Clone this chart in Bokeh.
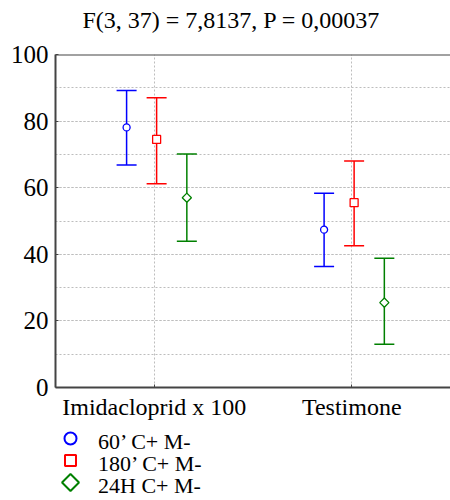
from bokeh.plotting import figure
from bokeh.layouts import column
from bokeh.models import (ColumnDataSource, FactorRange, Range1d, Whisker, TeeHead,
                          SingleIntervalTicker, Span)
from bokeh.transform import dodge
from bokeh.core.properties import value
from bokeh.embed import file_html
from bokeh.resources import INLINE

# ---- data ----
categories = ["Imidacloprid x 100", "Testimone"]
series_names = ["60\u2019 C+ M-", "180\u2019 C+ M-", "24H C+ M-"]
means_60 = [78.1, 47.4]
upper_60 = [89.2, 58.3]
lower_60 = [66.8, 36.3]
means_180 = [74.5, 55.5]
upper_180 = [87.0, 68.0]
lower_180 = [61.2, 42.6]
means_24h = [57.0, 25.5]
upper_24h = [70.1, 38.8]
lower_24h = [43.9, 13.0]
title_text = "F(3, 37) = 7,8137, P = 0,00037"

# ---- styles / layout ----
SERIF = "Liberation Serif"
W = 450
colors = ["#0000ff", "#ff0000", "#008000"]
markers = ["circle", "square", "square"]
angles = [0, 0, 45]
offsets = [-0.14, 0.012, 0.165]
msizes = [7, 8, 6.5]
legend_sizes = [12, 11, 12]
legend_marker_x = 70
legend_text_x = 97.5

# ---- header with title ----
hd = figure(width=W, height=38, output_backend="svg", toolbar_location=None,
            x_range=Range1d(0, 1), y_range=Range1d(0, 1),
            x_axis_location=None, y_axis_location=None,
            min_border_left=0, min_border_right=0, min_border_top=0, min_border_bottom=0)
hd.frame_align = False
hd.grid.visible = False
hd.outline_line_color = None
hd.border_fill_color = "white"
hd.title.text = title_text
hd.title.text_font = SERIF
hd.title.text_font_size = "24px"
hd.title.text_font_style = "normal"
hd.title.text_color = "black"
hd.title.align = "left"
hd.title.offset = 82
hd.title.standoff = 8

# ---- main chart ----
p = figure(width=W, height=384, output_backend="svg", toolbar_location=None,
           x_range=FactorRange(factors=categories, range_padding=0),
           y_range=Range1d(0, 100),
           min_border_left=55, min_border_right=0, min_border_top=16, min_border_bottom=34)
p.frame_align = False
p.outline_line_color = None
p.background_fill_color = "white"
p.border_fill_color = "white"

p.ygrid.ticker = SingleIntervalTicker(interval=20, num_minor_ticks=2)
p.yaxis.ticker = SingleIntervalTicker(interval=20, num_minor_ticks=2)
for g in (p.xgrid, p.ygrid):
    g.grid_line_color = "#bdbdbd"
    g.grid_line_dash = "2 2"
    g.grid_line_width = 1
p.ygrid.minor_grid_line_color = "#bdbdbd"
p.ygrid.minor_grid_line_dash = "2 2"

for ax in (p.xaxis, p.yaxis):
    ax.axis_line_color = "#444444"
    ax.axis_line_width = 2
    ax.major_tick_in = 3
    ax.major_tick_out = 0
    ax.minor_tick_in = 0
    ax.minor_tick_out = 0
    ax.major_tick_line_color = "#444444"
    ax.major_label_text_font = SERIF
    ax.major_label_text_color = "black"
p.yaxis.major_label_text_font_size = "25px"
p.yaxis.major_label_standoff = 7
p.xaxis.major_label_text_font_size = "24px"
p.xaxis.major_label_standoff = 6

p.add_layout(Span(location=100, dimension="width", line_color="#444444", line_width=2))

series = [(means_60, upper_60, lower_60), (means_180, upper_180, lower_180),
          (means_24h, upper_24h, lower_24h)]

for i, (m, u, l) in enumerate(series):
    src = ColumnDataSource(dict(cat=categories, mean=m, upper=u, lower=l))
    xt = dodge("cat", offsets[i], range=p.x_range)
    w = Whisker(source=src, base=xt, upper="upper", lower="lower",
                line_color=colors[i], line_width=1.5,
                upper_head=TeeHead(size=20, line_color=colors[i], line_width=1.5),
                lower_head=TeeHead(size=20, line_color=colors[i], line_width=1.5))
    p.add_layout(w)
    p.scatter(x=xt, y="mean", source=src, marker=markers[i], size=msizes[i],
              angle=angles[i], angle_units="deg",
              line_color=colors[i], fill_color="white", line_width=1.3)

# ---- legend below the chart ----
lg = figure(width=W, height=78, output_backend="svg", toolbar_location=None,
            x_range=Range1d(0, W), y_range=FactorRange(factors=series_names[::-1], range_padding=0),
            x_axis_location=None, y_axis_location=None,
            min_border_left=0, min_border_right=0, min_border_top=5, min_border_bottom=7)
lg.frame_align = False
lg.grid.visible = False
lg.outline_line_color = None
lg.border_fill_color = "white"

lsrc = ColumnDataSource(dict(name=series_names, color=colors, marker=markers,
                             angle=angles, size=legend_sizes))
lg.scatter(x=legend_marker_x, y="name", source=lsrc, marker="marker", size="size",
           angle="angle", angle_units="deg", line_color="color", fill_color=None, line_width=2)
lg.text(x=legend_text_x, y="name", text="name", source=lsrc, text_baseline="middle",
        y_offset=3, text_font=value(SERIF), text_font_size="22px", text_color="black")

layout = column(hd, p, lg, spacing=0)
open("out.html", "w").write(file_html(layout, INLINE))
